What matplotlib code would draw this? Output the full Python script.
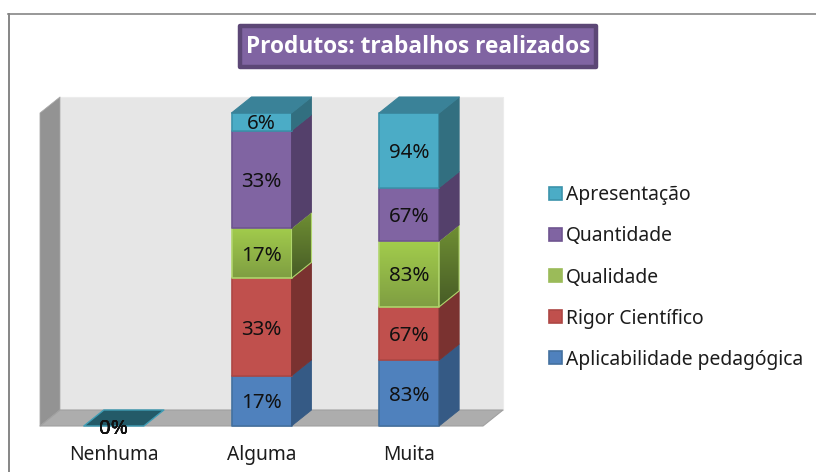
import numpy as np
import matplotlib
matplotlib.use("Agg")
import matplotlib.pyplot as plt
from matplotlib.patches import Polygon, Patch, Rectangle
from matplotlib.lines import Line2D
from matplotlib.colors import LinearSegmentedColormap

plt.rcParams['font.family'] = ['Noto Sans', 'DejaVu Sans']

categories = ["Nenhuma", "Alguma", "Muita"]
aplicabilidade = [0, 17, 83]
rigor = [0, 33, 67]
qualidade = [0, 17, 83]
quantidade = [0, 33, 67]
apresentacao = [0, 6, 94]
series_names = ["Aplicabilidade pedagógica", "Rigor Científico", "Qualidade", "Quantidade", "Apresentação"]
series_values = [aplicabilidade, rigor, qualidade, quantidade, apresentacao]
front_colors = ["#4F81BD", "#C0504D", "#9BBB59", "#8064A2", "#4BACC6"]
edge_colors = ["#44719F", "#AD4744", "#B0D56C", "#6F5590", "#3C93AB"]
side_colors = ["#355A85", "#7A3230", "#5F7A33", "#54406B", "#326F80"]

W, H = 816, 472
fig = plt.figure(figsize=(W / 100, H / 100), dpi=100, facecolor="white")
L, R, T, B = 40, 483, 113, 426
ax = fig.add_axes([L / W, 1 - B / H, (R - L) / W, (B - T) / H])
ax.set_xlim(-0.5, 2.5)
ax.set_ylim(0, 1)
ax.patch.set_visible(False)
for s in ax.spines.values():
    s.set_visible(False)

x_per_px = 3 / (R - L)
y_per_px = 1 / (B - T)
dx = 20 * x_per_px
dy = 16 * y_per_px
bar_w = 60 * x_per_px


def face(pts, fc, ec=None, lw=1.2, z=2):
    p = Polygon(pts, closed=True, facecolor=fc, edgecolor=ec if ec else fc,
                linewidth=lw, clip_on=False, zorder=z, joinstyle="round")
    ax.add_patch(p)
    return p


def grad_face(pts, top, bottom, ec, lw=1.2, z=2):
    pts = np.asarray(pts)
    cmap = LinearSegmentedColormap.from_list("g", [bottom, top])
    im = ax.imshow(np.linspace(0, 1, 64)[:, None], origin="lower", aspect="auto", cmap=cmap,
                   extent=(pts[:, 0].min(), pts[:, 0].max(), pts[:, 1].min(), pts[:, 1].max()),
                   zorder=z, clip_on=True)
    clip = Polygon(pts, closed=True, transform=ax.transData, facecolor="none")
    im.set_clip_path(clip)
    face(pts, "none", ec, lw, z + 0.1)


# walls and floor
x0, x1 = -0.5, 2.5
face([(x0 + dx, dy), (x1 + dx, dy), (x1 + dx, 1 + dy), (x0 + dx, 1 + dy)], "#E6E6E6", "#ECECEC", 0.8, 0)
face([(x0, 0), (x0 + dx, dy), (x0 + dx, 1 + dy), (x0, 1)], "#939393", "#A8A8A8", 0.6, 0.5)
face([(x0, 0), (x1, 0), (x1 + dx, dy), (x0 + dx, dy)], "#ADADAD", "#A0A0A0", 0.8, 0.6)

values = np.array(series_values, dtype=float)
totals = values.sum(axis=0)
fracs = np.divide(values, totals, out=np.zeros_like(values), where=totals > 0)
bottoms = np.vstack([np.zeros(len(categories)), np.cumsum(fracs, axis=0)[:-1]])

for j, cat in enumerate(categories):
    xl, xr = j - bar_w / 2, j + bar_w / 2
    for i in range(len(series_names)):
        y0 = bottoms[i, j]
        y1 = y0 + fracs[i, j]
        z = 2 + i * 0.5
        if fracs[i, j] > 0:
            front = [(xl, y0), (xr, y0), (xr, y1), (xl, y1)]
            side = [(xr, y0), (xr + dx, y0 + dy), (xr + dx, y1 + dy), (xr, y1)]
            if i == 2:
                grad_face(front, "#A2CC4C", "#7F9E42", edge_colors[i], 1.2, z)
                grad_face(side, "#6F8F33", "#475C26", edge_colors[i], 0.8, z + 0.2)
            else:
                face(front, front_colors[i], edge_colors[i], 1.2, z)
                face(side, side_colors[i], side_colors[i], 0.6, z + 0.2)
        ax.annotate(f"{values[i, j]:.0f}%", (j, y0 + fracs[i, j] / 2), xytext=(0, -1.8), textcoords="offset points",
                    ha="center", va="center", fontsize=14.8, color="#111111", zorder=10, annotation_clip=False)
    top = bottoms[-1, j] + fracs[-1, j]
    lid = [(xl, top), (xr, top), (xr + dx, top + dy), (xl + dx, top + dy)]
    if totals[j] > 0:
        face(lid, "#3A8298", "#3A8298", 0.8, 6)
    else:
        face(lid, "#235A68", "#3F9DB5", 1.0, 1)

ax.set_xticks(range(len(categories)))
ax.set_xticklabels(categories, fontsize=13.8, color="#1c1c1c")
ax.tick_params(axis="x", length=0, pad=14)
ax.set_yticks([])

# chart frame
fig.add_artist(Line2D([8.5 / W, 8.5 / W], [0, 1 - 14 / H], color="#868686", lw=1.4))
fig.add_artist(Line2D([8 / W, 1], [1 - 13.8 / H, 1 - 13.8 / H], color="#868686", lw=1.2))

# title box
fig.add_artist(Rectangle((240 / W, 1 - 66.5 / H), 356 / W, 41 / H, transform=fig.transFigure,
                         facecolor="#8064A2", edgecolor="#5C4776", linewidth=3.2, joinstyle="round"))
fig.text(418 / W, 1 - 47 / H, "Produtos: trabalhos realizados", ha="center", va="center",
         family="Open Sans", fontsize=16.3, fontweight="bold", color="white")

# legend
handles = [Patch(facecolor=front_colors[i], edgecolor=edge_colors[i] if i != 2 else front_colors[i], linewidth=1.2)
           for i in range(4, -1, -1)]
fig.legend(handles, series_names[::-1], loc="center left", bbox_to_anchor=(549 / W, 1 - 277.5 / H),
           bbox_transform=fig.transFigure, frameon=False, fontsize=13.9, labelspacing=1.09,
           handlelength=0.68, handleheight=0.68, handletextpad=0.2, borderpad=0, borderaxespad=0, labelcolor="#1c1c1c")

fig.savefig("out.png", dpi=100)
